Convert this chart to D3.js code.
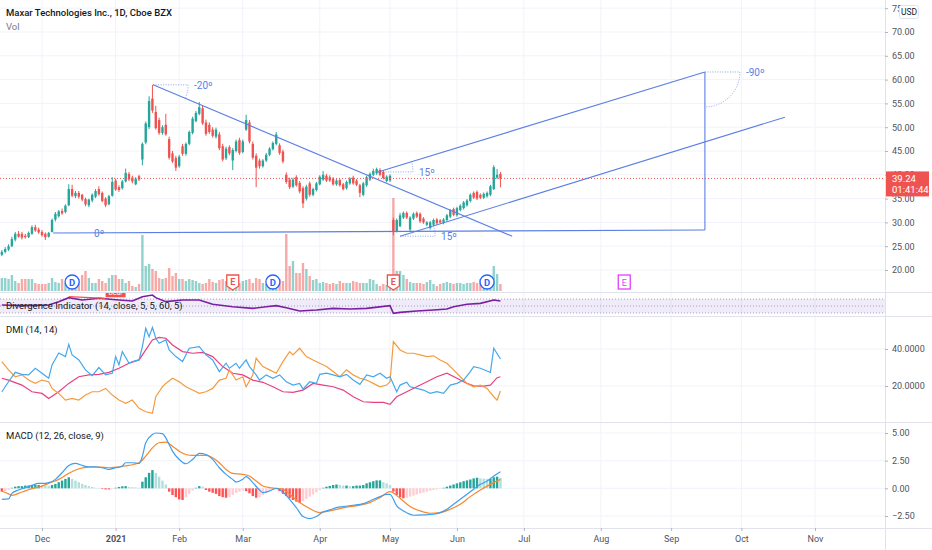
<!DOCTYPE html>
<html>
<head>
<meta charset="utf-8">
<script src="https://cdn.jsdelivr.net/npm/d3@7"></script>
<style>
body { margin: 0; background: #fff; }
text { font-family: Roboto, "Liberation Sans", sans-serif; }
</style>
</head>
<body>
<script>
// MAXR daily, bar index 0 = first session of Dec 2020
const firstBar = -12

const openP = [23.2,23.8,24.3,25.0,26.4,27.6,27.6,27.2,26.9,27.6,29.0,28.5,
 28.0,27.6,27.0,28.0,30.6,31.3,32.4,32.2,33.6,37.0,
 35.5,36.2,35.8,34.9,33.6,34.6,35.4,37.0,36.2,35.0,
 33.8,35.6,38.8,37.4,37.2,38.6,40.2,39.4,38.0,39.7,
 43.2,46.8,50.0,56.0,53.2,51.5,48.8,50.5,47.5,44.5,
 43.5,41.8,46.0,44.4,46.5,48.8,51.3,52.8,54.0,51.0,
 50.5,49.5,48.0,48.5,46.0,43.5,45.8,43.0,45.0,47.3,
 44.8,49.5,51.0,46.5,44.0,43.0,41.8,43.0,44.2,45.4,
 46.5,46.2,44.9,40.0,39.0,37.5,39.5,38.3,37.2,35.0,
 38.2,35.8,36.8,38.0,39.0,39.8,39.5,39.2,38.0,38.9,
 38.0,37.2,38.2,39.4,38.8,37.8,35.8,37.8,39.0,40.0,
 40.3,41.0,40.6,38.7,38.8,30.5,28.2,29.2,31.0,32.0,
 28.5,30.8,32.0,31.8,30.8,29.5,28.8,29.5,30.6,30.4,
 29.9,30.5,31.2,32.8,31.5,32.6,33.0,33.6,34.5,36.2,
 36.4,35.8,35.2,35.5,35.8,37.0,39.4,40.2]
const highP = [24.2,24.8,25.4,27.0,28.0,28.2,28.0,27.6,28.1,29.4,29.5,28.9,
 28.4,27.9,28.0,30.8,32.2,32.6,32.9,33.8,38.0,37.9,
 36.6,36.6,36.0,35.2,35.0,36.1,37.0,37.6,36.5,35.3,
 35.8,39.5,39.2,37.8,38.9,41.3,40.6,39.8,39.5,40.0,
 46.8,51.2,56.5,58.9,54.5,52.0,50.4,52.8,48.0,45.0,
 44.0,44.2,46.5,46.8,49.3,52.2,53.4,55.3,54.5,51.6,
 51.0,50.0,49.9,49.0,46.5,45.9,46.2,45.6,47.4,47.8,
 47.4,52.6,51.5,47.0,44.5,43.4,43.3,44.6,45.8,47.0,
 49.0,46.6,45.3,40.5,39.4,39.4,39.9,38.7,37.6,37.9,
 38.6,37.3,38.5,39.9,40.8,40.2,39.9,39.5,39.1,39.2,
 38.3,38.8,39.5,39.8,39.1,38.1,38.5,39.8,40.5,41.3,
 41.5,41.4,41.0,39.9,40.1,31.0,30.8,32.0,32.3,32.3,
 31.3,32.1,32.3,32.1,31.1,30.3,30.3,30.8,30.9,30.7,
 30.9,31.8,32.8,33.1,33.3,33.8,34.5,34.9,36.1,36.5,
 36.7,36.1,36.3,36.5,37.9,42.0,41.2,40.6]
const lowP = [22.9,23.5,24.0,24.8,26.0,26.8,26.4,26.6,26.7,27.4,28.0,27.6,
 27.0,26.3,26.8,27.9,30.2,31.0,31.6,31.9,33.4,35.3,
 35.1,35.0,34.4,33.4,33.2,34.2,35.1,35.6,34.2,33.2,
 33.6,35.4,36.6,36.4,36.9,38.4,38.7,38.2,37.8,38.7,
 42.0,46.4,49.6,53.0,49.5,48.4,48.4,48.2,43.2,42.5,
 40.8,41.5,44.0,44.0,46.2,48.5,51.0,52.5,50.5,48.2,
 48.6,47.8,47.6,45.2,42.8,43.1,44.1,41.0,44.7,44.2,
 44.5,49.2,46.6,43.2,37.4,41.3,41.5,42.7,43.9,45.1,
 46.2,44.2,42.4,38.1,37.0,37.2,37.5,36.1,33.0,34.6,
 35.4,35.5,36.5,37.8,38.7,38.5,38.5,37.7,37.7,37.5,
 36.7,36.9,37.9,37.9,37.6,35.3,35.5,37.5,38.7,39.7,
 40.0,39.7,39.0,38.4,38.5,27.3,27.9,29.0,30.7,30.7,
 28.0,30.5,30.9,29.9,29.7,29.2,28.5,29.2,29.5,29.7,
 29.6,30.2,30.9,31.3,31.2,32.3,32.7,33.3,34.2,34.9,
 34.7,34.9,34.9,35.2,35.5,36.8,39.1,37.4]
const closeP = [23.8,24.4,25.0,26.5,27.6,27.0,26.8,26.9,27.8,29.0,28.3,27.9,
 27.3,26.9,27.8,30.5,31.8,32.3,31.9,33.5,37.0,35.6,
 36.2,35.4,34.8,33.8,34.8,35.8,36.6,35.9,34.5,33.6,
 35.5,38.5,36.9,36.8,38.6,40.4,39.0,38.6,39.2,39.0,
 46.5,50.8,55.5,53.5,49.8,48.8,50.0,48.5,43.6,42.8,
 41.5,43.8,44.4,46.5,49.0,51.8,53.0,54.2,50.8,48.6,
 49.0,48.2,49.5,45.6,43.2,45.5,44.5,45.2,47.0,44.6,
 47.0,51.5,47.0,43.6,41.5,41.8,43.0,44.2,45.5,46.7,
 48.5,44.6,42.8,38.5,37.4,39.0,37.8,36.5,34.0,37.5,
 35.8,37.0,38.2,39.6,40.0,38.8,38.8,38.0,38.8,37.8,
 37.0,38.5,39.2,38.2,37.9,36.2,38.2,39.5,40.2,40.8,
 41.2,40.0,39.3,39.6,39.8,28.2,30.5,31.5,32.0,31.0,
 31.0,31.8,31.2,30.2,30.0,30.0,30.0,30.5,29.8,30.0,
 30.6,31.5,32.5,31.6,33.0,33.5,34.2,34.6,35.8,35.2,
 35.0,35.2,36.0,36.2,37.6,41.6,40.0,39.24]
// volume, millions of shares
const volume = [1.3,1.3,1.2,1.6,1.0,0.8,1.2,1.2,1.2,1.2,0.8,0.7,
 0.7,0.7,0.8,1.3,0.9,0.8,1.2,0.8,1.0,1.0,
 0.8,1.2,1.6,2.0,1.3,0.8,0.8,1.2,1.0,0.8,
 1.3,1.6,1.6,1.2,1.2,0.8,1.0,0.5,0.4,0.7,
 5.6,2.5,2.7,2.2,2.0,1.3,1.2,1.3,2.3,1.5,
 1.8,1.2,1.2,1.0,1.2,1.1,1.0,0.8,0.7,0.8,
 1.2,0.9,0.8,1.1,1.2,1.0,0.9,0.8,1.0,0.8,
 1.0,1.1,1.2,0.8,1.3,1.2,0.8,0.7,0.8,1.2,
 1.3,1.2,1.0,5.7,2.5,3.0,1.8,1.8,2.8,2.2,
 1.5,1.1,1.2,0.8,0.9,0.8,0.7,0.8,0.7,1.0,
 0.8,0.8,0.8,1.0,0.9,0.8,0.8,0.8,1.2,1.1,
 0.7,0.5,0.7,0.6,0.7,9.3,2.0,2.0,1.6,1.2,
 0.9,0.8,0.8,0.8,0.7,0.9,1.1,0.7,0.5,0.7,
 0.8,0.9,0.8,0.7,0.8,0.8,0.7,0.8,0.8,0.9,
 0.8,1.2,0.9,0.8,0.8,2.5,1.7,0.7]
const macdHist = [-0.3,-0.25,-0.15,0.05,0.15,0.2,0.2,0.25,0.25,0.3,0.3,0.3,
 0.28,0.25,0.22,0.3,0.4,0.55,0.7,0.85,1.0,0.85,
 0.7,0.55,0.4,0.3,0.2,0.12,0.05,0.03,-0.05,-0.1,
 -0.1,-0.05,0.05,0.12,0.18,0.2,0.12,0.1,0.08,0.05,
 0.6,1.0,1.4,1.65,1.4,1.05,0.7,0.35,-0.3,-0.6,
 -0.8,-1.0,-1.05,-0.8,-0.5,-0.2,0.05,0.2,0.15,-0.15,
 -0.3,-0.4,-0.5,-0.7,-0.8,-0.85,-0.8,-0.6,-0.4,-0.3,
 -0.2,-0.25,-0.45,-0.7,-0.85,-0.8,-0.6,-0.4,-0.2,-0.1,
 -0.05,-0.25,-0.5,-0.7,-0.9,-1.05,-1.2,-1.3,-1.15,-0.95,
 -0.75,-0.55,-0.35,-0.15,0.05,0.15,0.22,0.3,0.35,0.3,
 0.25,0.25,0.2,0.2,0.25,0.25,0.3,0.45,0.55,0.65,
 0.72,0.72,0.55,0.45,0.3,-0.3,-0.6,-0.8,-0.9,-0.85,
 -0.75,-0.65,-0.55,-0.45,-0.38,-0.3,-0.22,-0.15,-0.1,-0.05,
 0.05,0.15,0.25,0.35,0.45,0.55,0.65,0.72,0.8,0.9,
 0.96,0.9,0.88,0.85,0.85,1.0,1.05,0.95]

// indicator lines as [bar index, value]
const macdLine = [[-12,-1.0],[-10,-0.95],[-9,-0.45],[-7,-0.15],[-5,0.06],[-3,0.27],[-1,0.45],[1,0.45],[2,0.51],[4,0.81],[6,1.41],[8,2.07],[10,2.25],[12,2.07],[14,1.95],[16,1.95],[18,1.86],[20,1.71],[22,1.86],[24,2.01],[25,2.31],[27,2.31],[29,2.25],[30,2.91],[31,4.11],[33,4.86],[34,5.0],[36,4.95],[37,4.56],[38,3.96],[39,3.36],[41,2.61],[43,2.22],[45,2.61],[47,3.15],[49,3.06],[51,2.61],[53,1.86],[55,1.26],[57,0.81],[58,0.57],[60,0.81],[61,1.05],[63,0.51],[65,-0.15],[66,-0.39],[68,-0.24],[70,0],[72,-0.33],[74,-0.99],[76,-1.74],[78,-2.55],[80,-2.73],[82,-2.55],[84,-2.13],[86,-1.95],[88,-1.74],[90,-1.65],[93,-1.53],[96,-1.38],[98,-1.14],[101,-0.75],[103,-0.54],[104,-0.54],[106,-1.59],[108,-2.04],[111,-2.43],[114,-2.4],[117,-2.34],[119,-2.19],[121,-1.89],[123,-1.44],[125,-0.99],[127,-0.54],[129,-0.09],[131,0.36],[133,0.66],[135,1.11],[137,1.5]]
const macdSignal = [[-12,-0.24],[-10,-0.5],[-9,-0.63],[-6,-0.33],[-3,-0.03],[0,0.2],[2,0.45],[5,0.81],[8,1.35],[11,1.77],[14,1.92],[17,1.92],[20,1.86],[23,1.95],[26,2.07],[29,2.31],[31,2.91],[33,3.66],[35,4.12],[37,4.17],[39,3.81],[41,3.36],[43,3.06],[45,2.97],[47,2.97],[49,2.97],[51,2.76],[53,2.31],[55,1.71],[57,1.35],[60,1.26],[62,1.11],[64,0.66],[66,0.21],[68,0.06],[70,0],[72,-0.09],[74,-0.54],[77,-1.29],[80,-1.83],[83,-2.19],[86,-2.04],[89,-1.83],[92,-1.65],[95,-1.53],[98,-1.29],[101,-0.84],[104,-0.3],[107,-0.9],[110,-1.65],[113,-2.04],[116,-2.25],[119,-2.19],[122,-1.89],[125,-1.44],[128,-0.75],[131,-0.15],[134,0.36],[137,0.81]]
const diPlus = [[-12,16.9],[-10,22.3],[-8,27.4],[-6,26.3],[-4,26.0],[-2,29.6],[0,26.9],[2,24.2],[3,31.4],[5,37.8],[7,35.9],[8,42.5],[9,36.8],[11,34.1],[13,28.7],[15,25.6],[17,30.0],[19,26.0],[21,26.9],[22,35.9],[23,31.4],[24,38.6],[26,32.3],[27,33.2],[29,34.1],[30,41.3],[31,51.2],[32,46.6],[33,51.7],[34,45.8],[35,43.1],[37,44.9],[38,39.5],[40,35.9],[42,33.2],[43,36.8],[44,40.4],[47,41.3],[49,36.8],[51,34.1],[53,27.8],[55,32.3],[56,29.6],[58,32.3],[59,29.6],[61,34.1],[62,30.5],[64,26.0],[65,23.2],[67,26.0],[69,24.2],[71,26.0],[73,22.3],[75,20.5],[77,21.4],[78,18.3],[80,22.3],[82,21.4],[83,26.3],[85,26.9],[87,26.0],[89,25.0],[91,26.3],[93,23.2],[95,20.9],[97,26.0],[99,25.0],[101,26.9],[103,24.2],[104,25.0],[106,16.9],[107,20.5],[109,22.0],[110,19.6],[112,18.7],[114,17.8],[116,16.0],[118,16.9],[120,16.0],[122,20.5],[124,21.4],[126,23.2],[128,27.8],[129,30.5],[131,29.6],[133,28.1],[134,27.4],[135,40.4],[137,34.6]]
const diMinus = [[-12,33.2],[-10,28.7],[-8,25.0],[-6,26.0],[-4,23.2],[-2,21.4],[0,23.2],[2,22.3],[3,18.7],[5,16.0],[7,12.4],[9,13.3],[11,12.4],[13,15.1],[15,16.9],[17,16.9],[19,18.7],[21,15.1],[23,12.4],[25,10.6],[27,12.4],[29,7.9],[31,6.1],[33,5.2],[34,14.2],[36,19.6],[37,21.4],[39,24.2],[41,22.3],[43,19.6],[45,17.8],[47,16.0],[49,16.9],[51,18.7],[53,23.2],[55,24.2],[56,28.7],[57,26.0],[58,23.2],[60,25.0],[61,19.6],[63,26.0],[64,35.0],[66,30.5],[68,28.7],[70,26.9],[72,33.2],[74,38.6],[75,36.8],[77,40.4],[79,35.9],[81,34.1],[83,32.3],[85,30.5],[87,27.8],[89,25.0],[91,28.7],[93,26.0],[95,24.2],[97,23.2],[99,21.4],[101,19.6],[103,20.5],[104,22.3],[105,44.0],[107,39.5],[109,37.7],[111,37.7],[113,36.8],[115,35.9],[117,36.3],[119,34.1],[121,32.3],[123,28.7],[125,25.0],[127,21.4],[129,19.6],[131,20.5],[133,18.7],[135,14.2],[136,12.4],[137,17.3]]
const adx = [[-12,24.2],[-10,23.2],[-6,20.5],[-3,16.9],[0,16.0],[2,13.3],[5,16.9],[8,21.4],[11,25.0],[14,26.0],[17,26.3],[20,27.4],[23,29.6],[26,32.3],[29,34.1],[31,39.5],[33,44.9],[35,46.3],[37,45.8],[39,42.2],[42,38.6],[45,37.7],[48,38.2],[51,35.9],[54,30.5],[57,26.9],[60,26.0],[63,23.2],[66,22.0],[69,19.6],[72,16.9],[75,16.6],[78,17.8],[81,21.4],[84,20.5],[87,19.6],[90,17.8],[93,14.2],[96,11.5],[99,11.1],[102,11.1],[104,10.1],[106,14.2],[109,16.9],[112,19.6],[115,22.3],[118,25.0],[121,26.9],[124,24.2],[127,21.4],[129,20.1],[132,19.9],[134,20.5],[136,24.5],[137,25.0]]
const divRsi = [[-12,52.9],[-5,51],[2,52.9],[5,62.4],[8,73.8],[12,67],[17,72],[23,67],[27,64.3],[30,76.7],[33,81.4],[34,73.8],[37,62.4],[42,67],[47,67],[51,54.8],[57,48],[63,43.3],[67,48],[70,51],[73,45.2],[77,35.7],[82,38.6],[87,43.3],[92,41.4],[97,43.3],[104,51],[105,29],[107,31.9],[112,35.7],[117,38.6],[121,41.4],[123,48],[127,54.8],[131,57.6],[135,67],[137,64.3]]
const bearDiv = [[8,76.6],[19,72]]

const dividendBars = [9, 69, 133]
const earningsBars = [57, 105]
const nextEarningsBar = 174

// drawings (trend angles), anchored as [bar index, price]
const drawStart = [[3.3,27.77],[33.2,58.9],[100.4,40.6],[107,27.1],[198.1,61.6]]
const drawEnd = [[198.1,28.4],[140.5,27.1],[198.1,61.6],[222,52.1],[198.1,28.4]]
const drawLabels = ["0º","-20º","15º","15º","-90º"]

const priceTicks = [20,25,30,35,40,45,50,55,60,65,70,75]
const dmiTicks = [20,40]
const macdTicks = [-2.5,0,2.5,5]
const monthIdx = [0,22,41,60,83,104,124,144,167,188,209,231]
const monthLabels = ["Dec","2021","Feb","Mar","Apr","May","Jun","Jul","Aug","Sep","Oct","Nov"]

const w = 932, h = 550, plotW = 885
const up = "#26a69a", down = "#ef5350", toolBlue = "#5b7fe6"

const x = d3.scaleLinear().domain([0, 231]).range([42, 815])
const yPrice = d3.scaleLinear().domain([20, 70]).range([270, 32])
const yVol = d3.scaleLinear().domain([0, 10]).range([291, 191])
const yDiv = d3.scaleLinear().domain([30, 70]).range([313, 299])
const yDmi = d3.scaleLinear().domain([20, 40]).range([386, 349])
const yMacd = d3.scaleLinear().domain([-2.5, 5]).range([516, 433])

const bars = openP.map((o, k) => ({i: firstBar + k, o: o, h: highP[k], l: lowP[k], c: closeP[k], v: volume[k], hist: macdHist[k]}))

const svg = d3.select("body").append("svg").attr("width", w).attr("height", h)
svg.append("rect").attr("width", w).attr("height", h).attr("fill", "#fff")

const defs = svg.append("defs")
const paneBox = {main: [0, 292], div: [292, 316], dmi: [316, 422], macd: [422, 528]}
Object.keys(paneBox).forEach(k => {
  defs.append("clipPath").attr("id", "clip-" + k)
    .append("rect").attr("x", 0).attr("y", paneBox[k][0]).attr("width", plotW).attr("height", paneBox[k][1] - paneBox[k][0])
})
const pane = k => svg.append("g").attr("clip-path", "url(#clip-" + k + ")")

// grid
const grid = svg.append("g").attr("stroke", "#f0f3fa").attr("stroke-width", 1)
grid.selectAll(".vg").data(monthIdx).enter().append("line")
  .attr("x1", d => x(d)).attr("x2", d => x(d)).attr("y1", 0).attr("y2", 528)
grid.selectAll(".pg").data(priceTicks).enter().append("line")
  .attr("x1", 0).attr("x2", plotW).attr("y1", d => yPrice(d)).attr("y2", d => yPrice(d))
grid.selectAll(".dg").data(dmiTicks).enter().append("line")
  .attr("x1", 0).attr("x2", plotW).attr("y1", d => yDmi(d)).attr("y2", d => yDmi(d))
grid.selectAll(".mg").data(macdTicks).enter().append("line")
  .attr("x1", 0).attr("x2", plotW).attr("y1", d => yMacd(d)).attr("y2", d => yMacd(d))

// main pane
const main = pane("main")
main.selectAll(".vol").data(bars).enter().append("rect")
  .attr("x", d => x(d.i) - 1.2).attr("width", 2.4)
  .attr("y", d => yVol(d.v)).attr("height", d => yVol(0) - yVol(d.v))
  .attr("fill", d => d.c >= d.o ? "rgba(38,166,154,0.5)" : "rgba(239,83,80,0.5)")

main.selectAll(".wick").data(bars).enter().append("line")
  .attr("x1", d => x(d.i)).attr("x2", d => x(d.i))
  .attr("y1", d => yPrice(d.h)).attr("y2", d => yPrice(d.l))
  .attr("stroke", d => d.c >= d.o ? up : down).attr("stroke-width", 1)
main.selectAll(".body").data(bars).enter().append("rect")
  .attr("x", d => x(d.i) - 1.2).attr("width", 2.4)
  .attr("y", d => yPrice(Math.max(d.o, d.c)))
  .attr("height", d => Math.max(1, Math.abs(yPrice(d.o) - yPrice(d.c))))
  .attr("fill", d => d.c >= d.o ? up : down)

const lastClose = closeP[closeP.length - 1]
main.append("line").attr("x1", 0).attr("x2", plotW)
  .attr("y1", yPrice(lastClose)).attr("y2", yPrice(lastClose))
  .attr("stroke", down).attr("stroke-dasharray", "1,2").attr("stroke-width", 1)

// trend angle drawings
drawStart.forEach((s, k) => {
  const e = drawEnd[k]
  const sx = x(s[0]), sy = yPrice(s[1]), ex = x(e[0]), ey = yPrice(e[1])
  main.append("line").attr("x1", sx).attr("y1", sy).attr("x2", ex).attr("y2", ey)
    .attr("stroke", toolBlue).attr("stroke-width", 1.1)
  const th = Math.atan2(ey - sy, ex - sx), r = 35
  if (Math.abs(th) > 0.05) {
    main.append("path")
      .attr("d", "M" + sx + "," + sy + "H" + (sx + r) +
        "A" + r + "," + r + " 0 0 " + (th > 0 ? 1 : 0) + " " + (sx + r * Math.cos(th)) + "," + (sy + r * Math.sin(th)))
      .attr("fill", "none").attr("stroke", toolBlue).attr("stroke-opacity", 0.7)
      .attr("stroke-dasharray", "1,1.5").attr("stroke-width", 1)
  }
  main.append("text").attr("x", sx + 41).attr("y", sy + 4)
    .attr("font-size", 10).attr("fill", toolBlue).text(drawLabels[k])
})

// event markers
const evY = 282
dividendBars.forEach(b => {
  const g = svg.append("g").attr("transform", "translate(" + x(b) + "," + evY + ")")
  g.append("circle").attr("r", 7).attr("fill", "#fff").attr("stroke", "#2962ff").attr("stroke-width", 1.3)
  g.append("text").attr("text-anchor", "middle").attr("y", 3.5).attr("font-size", 9.5).attr("font-weight", "bold").attr("fill", "#2962ff").text("D")
})
earningsBars.forEach(b => {
  const g = svg.append("g").attr("transform", "translate(" + x(b) + "," + evY + ")")
  g.append("path").attr("d", "M-6,-7H6V4L0,8L-6,4Z").attr("fill", "#fff").attr("stroke", down).attr("stroke-width", 1.3)
  g.append("text").attr("text-anchor", "middle").attr("y", 3).attr("font-size", 9).attr("font-weight", "bold").attr("fill", down).text("E")
})
const ne = svg.append("g").attr("transform", "translate(" + x(nextEarningsBar) + "," + evY + ")")
ne.append("rect").attr("x", -6).attr("y", -7).attr("width", 12).attr("height", 14).attr("fill", "#fff").attr("stroke", "#e040fb").attr("stroke-width", 1.3)
ne.append("text").attr("text-anchor", "middle").attr("y", 3.5).attr("font-size", 9).attr("fill", "#e040fb").text("E")

// divergence pane
const dv = pane("div")
dv.append("rect").attr("x", 0).attr("width", plotW).attr("y", yDiv(70)).attr("height", yDiv(30) - yDiv(70)).attr("fill", "rgba(126,87,194,0.12)")
dv.selectAll(".band").data([70, 50, 30]).enter().append("line")
  .attr("x1", 0).attr("x2", plotW).attr("y1", d => yDiv(d)).attr("y2", d => yDiv(d))
  .attr("stroke", "#9a8cb8").attr("stroke-dasharray", "1,2").attr("stroke-width", 0.8)
dv.append("path").datum(divRsi)
  .attr("d", d3.line().x(d => x(d[0])).y(d => yDiv(d[1])))
  .attr("fill", "none").attr("stroke", "#7b1fa2").attr("stroke-width", 1.6)
dv.append("path").datum(bearDiv)
  .attr("d", d3.line().x(d => x(d[0])).y(d => yDiv(d[1])))
  .attr("stroke", down).attr("stroke-width", 1.3)
dv.append("rect").attr("x", x(bearDiv[1][0])).attr("y", yDiv(bearDiv[1][1]) - 10).attr("width", 20).attr("height", 9).attr("fill", down)
dv.append("text").attr("x", x(bearDiv[1][0]) + 10).attr("y", yDiv(bearDiv[1][1]) - 3).attr("text-anchor", "middle").attr("font-size", 7).attr("fill", "#fff").text("Bear")

// DMI pane
const dm = pane("dmi")
const dmiLine = d3.line().x(d => x(d[0])).y(d => yDmi(d[1]))
dm.append("path").datum(adx).attr("d", dmiLine).attr("fill", "none").attr("stroke", "#e8407e").attr("stroke-width", 1.2)
dm.append("path").datum(diMinus).attr("d", dmiLine).attr("fill", "none").attr("stroke", "#f59b3f").attr("stroke-width", 1.2)
dm.append("path").datum(diPlus).attr("d", dmiLine).attr("fill", "none").attr("stroke", "#45a8ee").attr("stroke-width", 1.2)

// MACD pane
const mc = pane("macd")
mc.selectAll(".hist").data(bars).enter().append("rect")
  .attr("x", d => x(d.i) - 1.2).attr("width", 2.4)
  .attr("y", d => yMacd(Math.max(0, d.hist)))
  .attr("height", d => Math.abs(yMacd(d.hist) - yMacd(0)))
  .attr("fill", (d, k) => {
    const prev = k > 0 ? bars[k - 1].hist : d.hist
    if (d.hist >= 0) return d.hist >= prev ? "#26a69a" : "#b2dfdb"
    return d.hist <= prev ? "#ff5252" : "#ffcdd2"
  })
const macdPath = d3.line().x(d => x(d[0])).y(d => yMacd(d[1])).curve(d3.curveMonotoneX)
mc.append("path").datum(macdSignal).attr("d", macdPath).attr("fill", "none").attr("stroke", "#f5892f").attr("stroke-width", 1.2)
mc.append("path").datum(macdLine).attr("d", macdPath).attr("fill", "none").attr("stroke", "#3c9ef0").attr("stroke-width", 1.2)

// separators
const sep = svg.append("g").attr("stroke", "#e0e3eb").attr("stroke-width", 1)
sep.selectAll("line").data([292, 316, 422, 528]).enter().append("line")
  .attr("x1", 0).attr("x2", w).attr("y1", d => d + 0.5).attr("y2", d => d + 0.5)
sep.append("line").attr("x1", plotW + 0.5).attr("x2", plotW + 0.5).attr("y1", 0).attr("y2", h)

// right axes
function rightAxis(scale, ticks, fmt) {
  const g = svg.append("g").attr("transform", "translate(" + plotW + ",0)")
    .call(d3.axisRight(scale).tickValues(ticks).tickFormat(fmt).tickSize(3).tickPadding(4))
  g.select(".domain").remove()
  g.selectAll("line").attr("stroke", "#b2b5be")
  g.selectAll("text").attr("font-size", 9).attr("fill", "#50535e").attr("font-family", "Roboto, sans-serif")
  return g
}
rightAxis(yPrice, priceTicks, d3.format(".2f"))
rightAxis(yDmi, dmiTicks, d3.format(".4f"))
rightAxis(yMacd, macdTicks, d3.format(".2f"))

// time axis
const tx = svg.append("g").attr("transform", "translate(0,528)")
  .call(d3.axisBottom(x).tickValues(monthIdx).tickFormat((d, k) => monthLabels[k]).tickSize(3).tickPadding(5))
tx.select(".domain").remove()
tx.selectAll("line").attr("stroke", "#b2b5be")
tx.selectAll("text").attr("font-size", 9).attr("fill", "#50535e").attr("font-family", "Roboto, sans-serif")
  .attr("font-weight", (d, k) => monthLabels[k] === "2021" ? "bold" : "normal")

// last price label
const ly = yPrice(lastClose)
svg.append("rect").attr("x", plotW + 1).attr("y", ly - 7).attr("width", 43).attr("height", 25).attr("fill", down)
svg.append("text").attr("x", plotW + 7).attr("y", ly + 3.5).attr("font-size", 9.5).attr("fill", "#fff").text(d3.format(".2f")(lastClose))
svg.append("text").attr("x", plotW + 7).attr("y", ly + 14.5).attr("font-size", 9.5).attr("fill", "#fff").text("01:41:44")

// currency box
svg.append("rect").attr("x", 899.5).attr("y", 5.5).attr("width", 19).attr("height", 13).attr("rx", 2)
  .attr("fill", "#fff").attr("stroke", "#e0e3eb")
svg.append("text").attr("x", 909).attr("y", 15).attr("text-anchor", "middle").attr("font-size", 8.5).attr("fill", "#131722").text("USD")

// titles
svg.append("text").attr("x", 6).attr("y", 16).attr("font-size", 9.5).attr("font-weight", 500).attr("fill", "#131722")
  .text("Maxar Technologies Inc., 1D, Cboe BZX")
svg.append("text").attr("x", 6).attr("y", 30).attr("font-size", 9.5).attr("fill", "#787b86").text("Vol")
svg.append("text").attr("x", 6).attr("y", 309).attr("font-size", 9.5).attr("fill", "#131722").text("Divergence Indicator (14, close, 5, 5, 60, 5)")
svg.append("text").attr("x", 6).attr("y", 333).attr("font-size", 9.5).attr("fill", "#131722").text("DMI (14, 14)")
svg.append("text").attr("x", 6).attr("y", 439).attr("font-size", 9.5).attr("fill", "#131722").text("MACD (12, 26, close, 9)")
</script>
</body>
</html>
